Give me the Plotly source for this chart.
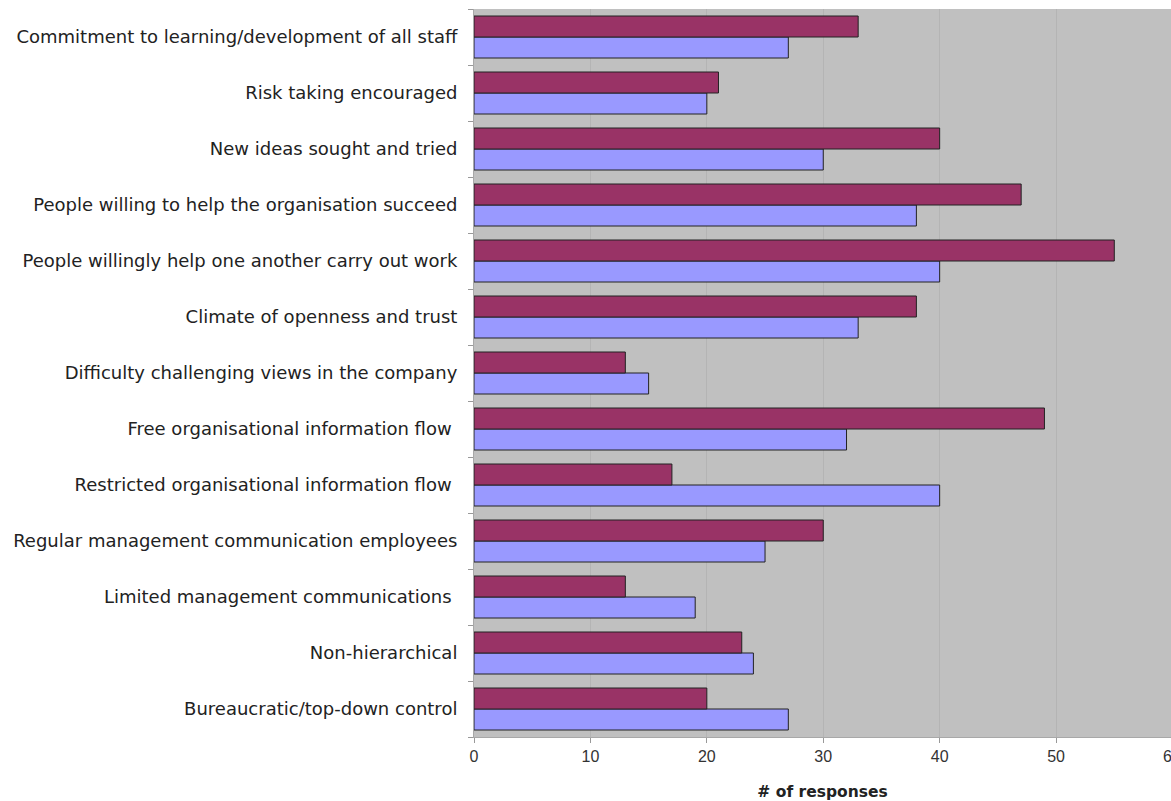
import plotly.graph_objects as go

categories = [
    "Commitment to learning/development of all staff",
    "Risk taking encouraged",
    "New ideas sought and tried",
    "People willing to help the organisation succeed",
    "People willingly help one another carry out work",
    "Climate of openness and trust",
    "Difficulty challenging views in the company",
    "Free organisational information flow\u00a0",
    "Restricted organisational information flow\u00a0",
    "Regular management communication employees",
    "Limited management communications\u00a0",
    "Non-hierarchical",
    "Bureaucratic/top-down control",
]
series_a = [33, 21, 40, 47, 55, 38, 13, 49, 17, 30, 13, 23, 20]  # maroon (upper bar)
series_b = [27, 20, 30, 38, 40, 33, 15, 32, 40, 25, 19, 24, 27]  # blue (lower bar)
x_ticks = [0, 10, 20, 30, 40, 50]
edge_tick = 60

# reverse so first category is at top
cats_r = categories[::-1]
a_r = series_a[::-1]
b_r = series_b[::-1]

fig = go.Figure()
fig.add_trace(go.Bar(
    y=cats_r, x=b_r, orientation="h", name="B",
    marker=dict(color="#9999FF", line=dict(color="#222222", width=1)),
))
fig.add_trace(go.Bar(
    y=cats_r, x=a_r, orientation="h", name="A",
    marker=dict(color="#993366", line=dict(color="#222222", width=1)),
))

W, H = 1171, 801
left, top, bottom = 473.5, 9, 737
x_max = (W - left) / 11.65

fig.update_layout(
    width=W, height=H,
    margin=dict(l=left, r=0, t=top, b=H - bottom),
    barmode="group", bargap=0.25, bargroupgap=0,
    plot_bgcolor="#C0C0C0", paper_bgcolor="white",
    showlegend=False,
    font=dict(family="DejaVu Sans, Arial, sans-serif", color="#222222"),
    xaxis=dict(
        range=[0, x_max], tickvals=x_ticks, ticks="outside", ticklen=5,
        tickcolor="#999999", showgrid=True, gridcolor="#B4B4B4", gridwidth=1,
        zeroline=False, showline=True, linecolor="#A8A8A8", linewidth=1,
        tickfont=dict(size=16, color="#333333", family="Liberation Sans, Arial, sans-serif"),
        title=dict(text="<b># of responses</b>", font=dict(size=15.5, color="#222222"), standoff=24),
        fixedrange=True,
    ),
    yaxis=dict(
        type="category", categoryorder="array", categoryarray=cats_r,
        tickson="boundaries", ticks="outside", ticklen=5, tickcolor="#999999",
        showgrid=False, showline=True, linecolor="#A8A8A8", linewidth=1,
        tickfont=dict(size=18, color="#222222"), ticklabelstandoff=12,
        fixedrange=True,
    ),
)

# tick label at the right edge (partly cut off by the page edge, as in the source)
fig.add_annotation(
    x=edge_tick / x_max, y=0, xref="paper", yref="paper", yanchor="top", yshift=-9,
    xanchor="center", text=str(edge_tick), showarrow=False,
    font=dict(size=16, color="#333333", family="Liberation Sans, Arial, sans-serif"),
)

fig.write_html(
    "out.html",
    config={"displayModeBar": False},
    post_script="document.body.style.margin='0px';document.body.style.overflow='hidden';",
)
